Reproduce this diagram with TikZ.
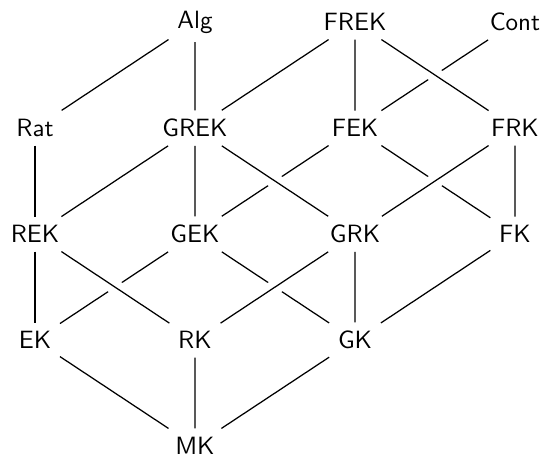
\documentclass[tikz,border=0pt]{standalone}
\usepackage{amsmath,amssymb}
\usepackage{tikz}

\begin{document}
\begin{tikzpicture}[scale=0.2]
			\tikzstyle{every node}+=[font=\sffamily]
			\tikzstyle{edge}=[black,line width=0.5pt]
			\tikzstyle{over}=[edge,preaction={draw=white,line width=6pt,shorten <=3pt,shorten >=3pt}]
			\useasboundingbox (0,0) rectangle (38.3,-32.61);
			\draw (13.70,-1.55) node (alg) {Alg};
			\draw (24.95,-1.55) node (frek) {FREK};
			\draw (36.19,-1.55) node (cont) {Cont};
			\draw (2.46,-9.00) node (rat) {Rat};
			\draw (13.70,-9.00) node (grek) {GREK};
			\draw (24.95,-9.00) node (fek) {FEK};
			\draw (36.19,-9.00) node (frk) {FRK};
			\draw (2.46,-16.45) node (rek) {REK};
			\draw (13.70,-16.45) node (gek) {GEK};
			\draw (24.95,-16.45) node (grk) {GRK};
			\draw (36.19,-16.45) node (fk) {FK};
			\draw (2.46,-23.90) node (ek) {EK};
			\draw (13.70,-23.90) node (rk) {RK};
			\draw (24.95,-23.90) node (gk) {GK};
			\draw (13.70,-31.34) node (mk) {MK};
			% lines underneath
			\draw [edge] (alg) -- (rat);
			\draw [edge] (alg) -- (grek);
			\draw [edge] (frek) -- (grek);
			\draw [edge] (frek) -- (fek);
			\draw [edge] (cont) -- (fek);
			\draw [edge] (rat) -- (rek);
			\draw [edge] (grek) -- (rek);
			\draw [edge] (grek) -- (gek);
			\draw [edge] (fek) -- (gek);
			\draw [edge] (fek) -- (fk);
			\draw [edge] (frk) -- (fk);
			\draw [edge] (rek) -- (ek);
			\draw [edge] (gek) -- (ek);
			\draw [edge] (gek) -- (gk);
			\draw [edge] (grk) -- (gk);
			\draw [edge] (fk) -- (gk);
			\draw [edge] (ek) -- (mk);
			\draw [edge] (rk) -- (mk);
			\draw [edge] (gk) -- (mk);
			% lines on top
			\draw [over] (frek) -- (frk);
			\draw [over] (grek) -- (grk);
			\draw [over] (frk) -- (grk);
			\draw [over] (rek) -- (rk);
			\draw [over] (grk) -- (rk);
\end{tikzpicture}
\end{document}
